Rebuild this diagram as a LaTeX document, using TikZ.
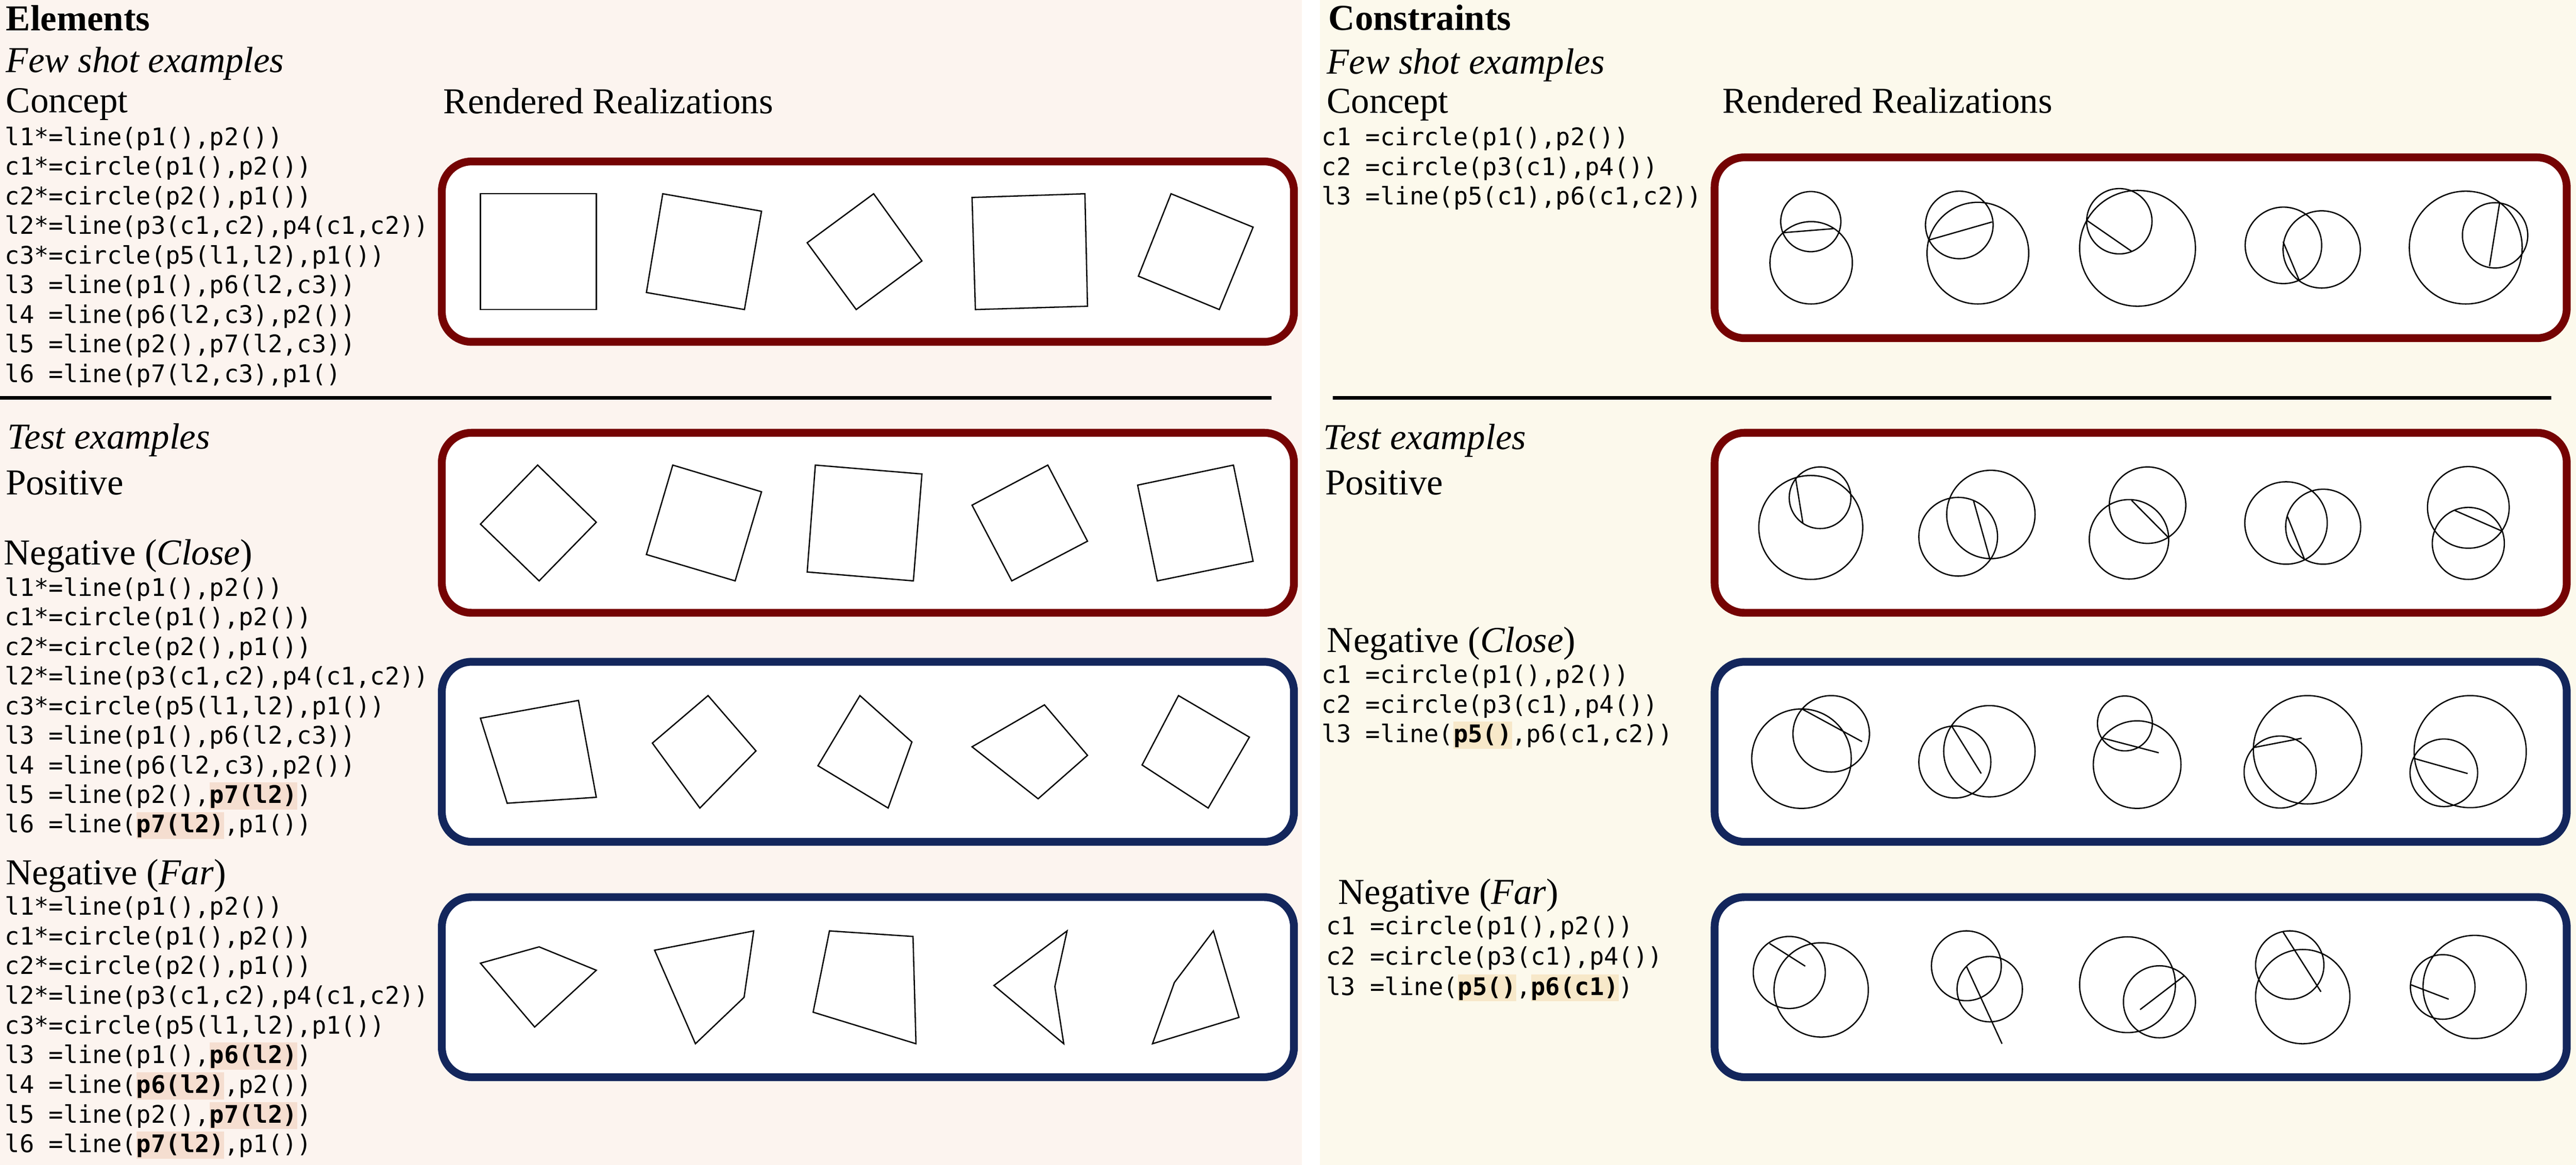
\documentclass[tikz,border=0pt]{standalone}
\usepackage{fontspec}
\setmainfont{Liberation Serif}
\setmonofont{DejaVu Sans Mono}
\definecolor{elbg}{RGB}{252,244,239}
\definecolor{cobg}{RGB}{252,249,236}
\definecolor{elhl}{RGB}{245,222,208}
\definecolor{cohl}{RGB}{247,232,201}
\definecolor{posred}{RGB}{117,3,3}
\definecolor{negblue}{RGB}{19,38,92}
\newcommand{\hlel}[1]{{\setlength{\fboxsep}{0pt}\colorbox{elhl}{\rule[-0.085cm]{0pt}{0.365cm}\bfseries #1}}}
\newcommand{\hlco}[1]{{\setlength{\fboxsep}{0pt}\colorbox{cohl}{\rule[-0.085cm]{0pt}{0.365cm}\bfseries #1}}}
\begin{document}
\begin{tikzpicture}[%
  x=0.5cm, y=-0.5cm,
  heading/.style={anchor=base west, inner sep=0pt, font=\fontsize{14}{16}\selectfont\bfseries},
  subheading/.style={anchor=base west, inner sep=0pt, font=\fontsize{14}{16}\selectfont\itshape},
  caption/.style={anchor=base west, inner sep=0pt, font=\fontsize{14}{16}\selectfont},
  codeline/.style={anchor=base west, inner sep=0pt, font=\fontsize{9.3}{11.3}\selectfont\ttfamily},
  posbox/.style={draw=posred, line width=3pt, rounded corners=0.4cm, fill=white},
  negbox/.style={draw=negblue, line width=3pt, rounded corners=0.4cm, fill=white},
  sketch/.style={line width=0.5pt},
  rule/.style={line width=1.4pt},
]
  \useasboundingbox (0,0) rectangle (69.38,31.38);
  \fill[white] (0,0) rectangle (69.38,31.38);
  \fill[elbg] (0,0) rectangle (35.07,31.38);
  \fill[cobg] (35.55,0) rectangle (69.38,31.38);

  % Elements
  \node[heading] (elements) at (0.15,0.83) {Elements};
  \node[subheading] (elfewshot) at (0.15,1.945) {Few shot examples};
  \node[caption] (elconcept) at (0.15,3.03) {Concept};
  \node[caption] (elrendered) at (11.93,3.06) {Rendered Realizations};
  \foreach \txt [count=\k from 0] in {%
    {l1*=line(p1(),p2())}, {c1*=circle(p1(),p2())}, {c2*=circle(p2(),p1())},
    {l2*=line(p3(c1,c2),p4(c1,c2))}, {c3*=circle(p5(l1,l2),p1())},
    {l3 =line(p1(),p6(l2,c3))}, {l4 =line(p6(l2,c3),p2())},
    {l5 =line(p2(),p7(l2,c3))}, {l6 =line(p7(l2,c3),p1()}}
    \node[codeline] (elfew\k) at (0.12,3.92+0.797*\k) {\txt};
  \draw[rule] (0,10.72) -- (34.24,10.72);
  \node[subheading] (eltest) at (0.19,12.09) {Test examples};
  \node[caption] (elpositive) at (0.14,13.33) {Positive};
  \node[caption] (elclose) at (0.09,15.22) {Negative (\textit{Close})};
  \foreach \txt [count=\k from 0] in {%
    {l1*=line(p1(),p2())}, {c1*=circle(p1(),p2())}, {c2*=circle(p2(),p1())},
    {l2*=line(p3(c1,c2),p4(c1,c2))}, {c3*=circle(p5(l1,l2),p1())},
    {l3 =line(p1(),p6(l2,c3))}, {l4 =line(p6(l2,c3),p2())},
    {l5 =line(p2(),\hlel{p7(l2)})}, {l6 =line(\hlel{p7(l2)},p1())}}
    \node[codeline] (elclose\k) at (0.12,16.06+0.797*\k) {\txt};
  \node[caption] (elfar) at (0.14,23.83) {Negative (\textit{Far})};
  \foreach \txt [count=\k from 0] in {%
    {l1*=line(p1(),p2())}, {c1*=circle(p1(),p2())}, {c2*=circle(p2(),p1())},
    {l2*=line(p3(c1,c2),p4(c1,c2))}, {c3*=circle(p5(l1,l2),p1())},
    {l3 =line(p1(),\hlel{p6(l2)})}, {l4 =line(\hlel{p6(l2)},p2())},
    {l5 =line(p2(),\hlel{p7(l2)})}, {l6 =line(\hlel{p7(l2)},p1())}}
    \node[codeline] (elfar\k) at (0.12,24.65+0.80*\k) {\txt};

  \draw[posbox] (11.90,4.35) rectangle (34.85,9.21);
  \draw[posbox] (11.90,11.66) rectangle (34.85,16.51);
  \draw[negbox] (11.90,17.83) rectangle (34.85,22.68);
  \draw[negbox] (11.90,24.17) rectangle (34.85,29.02);
  \foreach \xa/\ya/\xb/\yb/\xc/\yc/\xd/\yd in {%
    12.94/5.22/16.06/5.22/16.06/8.34/12.94/8.34,
    17.85/5.22/20.51/5.69/20.05/8.34/17.41/7.88,
    23.53/5.22/24.83/7.03/23.06/8.34/21.74/6.54,
    26.18/5.32/29.22/5.22/29.29/8.25/26.27/8.34,
    31.54/5.22/33.75/6.12/32.84/8.34/30.66/7.44,
    14.48/12.53/16.06/14.07/14.52/15.65/12.94/14.12,
    18.12/12.53/20.51/13.25/19.80/15.65/17.41/14.94,
    21.96/12.53/24.83/12.77/24.60/15.65/21.74/15.41,
    28.22/12.53/29.29/14.58/27.25/15.65/26.18/13.61,
    33.22/12.53/33.75/15.12/31.17/15.65/30.64/13.07,
    12.94/19.35/15.58/18.87/16.06/21.48/13.66/21.64,
    19.07/18.74/20.36/20.23/18.85/21.77/17.57/20.02,
    23.16/18.74/24.56/19.99/23.92/21.77/22.03/20.63,
    28.13/18.99/29.29/20.35/27.96/21.52/26.18/20.12,
    31.74/18.74/33.65/19.86/32.54/21.77/30.76/20.61,
    12.94/25.95/14.52/25.51/16.06/26.14/14.40/27.67,
    17.63/25.60/20.30/25.08/20.04/26.87/18.73/28.12,
    22.34/25.08/24.59/25.23/24.67/28.12/21.90/27.27,
    28.74/25.08/28.41/26.58/28.65/28.12/26.77/26.55,
    32.68/25.08/33.37/27.41/31.04/28.12/31.63/26.47}
    \draw[sketch] (\xa,\ya) -- (\xb,\yb) -- (\xc,\yc) -- (\xd,\yd) -- cycle;

  % Constraints
  \node[heading] (constraints) at (35.77,0.81) {Constraints};
  \node[subheading] (cofewshot) at (35.72,1.99) {Few shot examples};
  \node[caption] (coconcept) at (35.72,3.05) {Concept};
  \node[caption] (corendered) at (46.38,3.05) {Rendered Realizations};
  \foreach \txt [count=\k from 0] in {%
    {c1 =circle(p1(),p2())}, {c2 =circle(p3(c1),p4())}, {l3 =line(p5(c1),p6(c1,c2))}}
    \node[codeline] (cofew\k) at (35.59,3.92+0.80*\k) {\txt};
  \draw[rule] (35.89,10.72) -- (68.72,10.72);
  \node[subheading] (cotest) at (35.63,12.10) {Test examples};
  \node[caption] (copositive) at (35.68,13.33) {Positive};
  \node[caption] (coclose) at (35.73,17.58) {Negative (\textit{Close})};
  \foreach \txt [count=\k from 0] in {%
    {c1 =circle(p1(),p2())}, {c2 =circle(p3(c1),p4())}, {l3 =line(\hlco{p5()},p6(c1,c2))}}
    \node[codeline] (coclose\k) at (35.59,18.41+0.795*\k) {\txt};
  \node[caption] (cofar) at (36.03,24.36) {Negative (\textit{Far})};
  \foreach \txt [count=\k from 0] in {%
    {c1 =circle(p1(),p2())}, {c2 =circle(p3(c1),p4())}, {l3 =line(\hlco{p5()},\hlco{p6(c1)})}}
    \node[codeline] (cofar\k) at (35.71,25.18+0.815*\k) {\txt};

  \draw[posbox] (46.18,4.24) rectangle (69.13,9.11);
  \draw[posbox] (46.18,11.66) rectangle (69.13,16.51);
  \draw[negbox] (46.18,17.83) rectangle (69.13,22.68);
  \draw[negbox] (46.18,24.17) rectangle (69.13,29.02);
  \foreach \ax/\ay/\ar/\bx/\by/\br/\sx/\sy/\tx/\ty in {%
    48.77/5.97/0.81/48.78/7.08/1.11/48.01/6.27/49.38/6.16,
    52.77/6.06/0.91/53.27/6.82/1.37/51.94/6.47/53.65/5.98,
    57.08/5.96/0.88/57.57/6.69/1.56/56.21/5.94/57.41/6.77,
    61.50/6.61/1.03/62.53/6.72/1.04/61.49/6.51/61.92/7.54,
    66.41/6.67/1.52/67.20/6.34/0.88/67.32/5.48/67.05/7.17,
    48.77/14.21/1.40/49.02/13.41/0.83/48.36/12.88/48.56/14.11,
    52.74/14.46/1.06/53.62/13.86/1.19/53.15/13.48/53.59/15.05,
    57.84/13.61/1.03/57.34/14.53/1.07/57.41/13.48/58.38/14.46,
    61.57/14.09/1.11/62.57/14.19/1.01/61.61/13.92/62.06/15.05,
    66.48/13.67/1.10/66.48/14.64/0.97/66.11/13.75/67.39/14.31,
    48.52/20.44/1.34/49.32/19.77/1.03/48.55/19.11/50.15/19.98,
    52.65/20.53/0.97/53.58/20.24/1.23/52.57/19.57/53.36/20.84,
    57.23/19.49/0.74/57.56/20.60/1.18/56.65/19.89/58.14/20.28,
    62.15/20.20/1.46/61.41/20.80/0.97/60.70/20.14/61.99/19.89,
    66.53/20.25/1.51/65.82/20.82/0.91/65.04/20.44/66.46/20.84,
    48.19/26.20/0.97/49.05/26.67/1.27/47.66/25.42/48.62/26.03,
    52.96/26.02/0.94/53.59/26.65/0.88/52.96/26.03/53.92/28.12,
    57.30/26.53/1.29/58.16/26.99/0.97/58.84/26.28/57.64/27.20,
    61.67/26.00/0.92/62.02/26.85/1.27/61.49/25.11/62.51/26.72,
    66.65/26.59/1.39/65.79/26.59/0.87/64.93/26.53/65.95/26.92}
    \draw[sketch] (\ax,\ay) circle (\ar) (\bx,\by) circle (\br) (\sx,\sy) -- (\tx,\ty);
\end{tikzpicture}
\end{document}
